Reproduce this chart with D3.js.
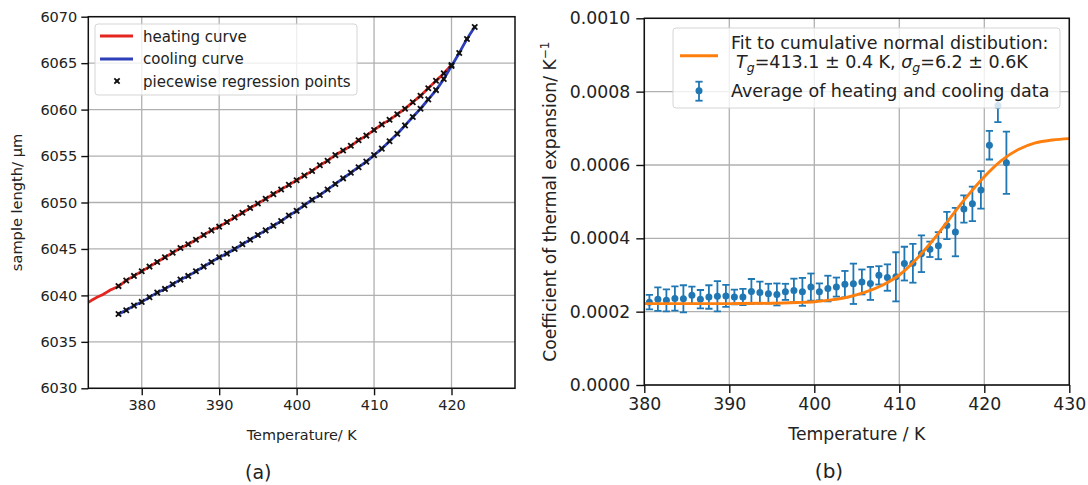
<!DOCTYPE html>
<html>
<head>
<meta charset="utf-8">
<script src="https://cdn.jsdelivr.net/npm/d3@7"></script>
<style>
  html, body { margin: 0; padding: 0; background: #ffffff; }
  svg { display: block; font-family: "DejaVu Sans", sans-serif; }
</style>
</head>
<body>
<svg id="chart" width="1088" height="485"></svg>
<script>
// ---------------- DATA ----------------
// Panel (a): sample length vs temperature
const heatingTemps = [373,374,375,376,377,378,379,380,381,382,383,384,385,386,387,388,389,390,391,392,393,394,395,396,397,398,399,400,401,402,403,404,405,406,407,408,409,410,411,412,413,414,415,416,417,418,419,420];
const heatingLength = [6039.2,6039.7,6040.1,6040.6,6041.0,6041.6,6042.1,6042.6,6043.1,6043.6,6044.1,6044.6,6045.1,6045.5,6046.0,6046.5,6047.0,6047.4,6047.9,6048.4,6048.9,6049.4,6049.9,6050.4,6050.9,6051.4,6051.9,6052.4,6052.9,6053.4,6054.0,6054.5,6055.1,6055.6,6056.1,6056.7,6057.2,6057.8,6058.4,6058.9,6059.5,6060.1,6060.8,6061.5,6062.3,6063.1,6063.9,6064.8];
const heatingPointStart = 377;
const coolingTemps = [377,378,379,380,381,382,383,384,385,386,387,388,389,390,391,392,393,394,395,396,397,398,399,400,401,402,403,404,405,406,407,408,409,410,411,412,413,414,415,416,417,418,419,420,421,422,423];
const coolingLength = [6038.0,6038.4,6038.9,6039.3,6039.8,6040.3,6040.7,6041.2,6041.7,6042.1,6042.6,6043.1,6043.6,6044.1,6044.5,6045.0,6045.5,6046.0,6046.5,6047.0,6047.5,6048.0,6048.6,6049.1,6049.7,6050.3,6050.8,6051.4,6052.0,6052.6,6053.2,6053.8,6054.4,6055.1,6055.8,6056.6,6057.4,6058.3,6059.2,6060.1,6061.1,6062.1,6063.3,6064.7,6066.1,6067.6,6068.9];
const aXTicks = [380, 390, 400, 410, 420];
const aYTicks = [6030, 6035, 6040, 6045, 6050, 6055, 6060, 6065, 6070];

// Panel (b): coefficient of thermal expansion
const cteTemps = [380.6,381.6,382.6,383.6,384.6,385.6,386.6,387.6,388.6,389.6,390.6,391.6,392.6,393.6,394.6,395.6,396.6,397.6,398.6,399.6,400.6,401.6,402.6,403.6,404.6,405.6,406.6,407.6,408.6,409.6,410.6,411.6,412.6,413.6,414.6,415.6,416.6,417.6,418.6,419.6,420.6,421.6,422.6];
const cteValues = [0.000226,0.000234,0.000231,0.000236,0.000235,0.000245,0.000234,0.000240,0.000242,0.000243,0.000240,0.000240,0.000255,0.000252,0.000249,0.000247,0.000254,0.000258,0.000254,0.000267,0.000254,0.000263,0.000267,0.000275,0.000276,0.000281,0.000277,0.000299,0.000293,0.000295,0.000331,0.000332,0.000358,0.000370,0.000380,0.000435,0.000417,0.000480,0.000494,0.000532,0.000654,0.000762,0.000606];
const cteErrors = [0.000020,0.000032,0.000030,0.000033,0.000037,0.000023,0.000025,0.000032,0.000041,0.000030,0.000020,0.000022,0.000034,0.000030,0.000027,0.000030,0.000022,0.000032,0.000038,0.000037,0.000023,0.000035,0.000026,0.000036,0.000055,0.000034,0.000045,0.000025,0.000036,0.000067,0.000046,0.000053,0.000050,0.000021,0.000037,0.000037,0.000066,0.000037,0.000047,0.000051,0.000039,0.000045,0.000085];
const fitTemps = [380,385,390,395,398,400,402,404,406,408,410,412,414,416,418,420,422,424,426,428,430];
const fitValues = [0.000222,0.000222,0.000222,0.000223,0.000225,0.000227,0.000232,0.000240,0.000253,0.000272,0.000300,0.000343,0.000396,0.000456,0.000515,0.000568,0.000612,0.000642,0.000660,0.000668,0.000672];
const bXTicks = [380, 390, 400, 410, 420, 430];
const bYTicks = [0, 0.0002, 0.0004, 0.0006, 0.0008, 0.0010];

// ---------------- STYLE ----------------
const gridColor = "#b0b0b0";
const red = "#e3261f", blue = "#2d3fb8", orange = "#ff7f0e", tab = "#1f77b4";

const svg = d3.select("#chart");
const defs = svg.append("defs");

function panel(opts) {
  const g = svg.append("g");
  const x = d3.scaleLinear().domain(opts.xDomain).range(opts.xRange);
  const y = d3.scaleLinear().domain(opts.yDomain).range(opts.yRange);
  const [x0, x1] = opts.xRange, [y0, y1] = [opts.yRange[1], opts.yRange[0]];
  g.append("g").selectAll("line").data(opts.xTicks).join("line")
    .attr("x1", d => x(d)).attr("x2", d => x(d)).attr("y1", y0).attr("y2", y1)
    .attr("stroke", gridColor).attr("stroke-width", 1.3);
  g.append("g").selectAll("line").data(opts.yTicks).join("line")
    .attr("x1", x0).attr("x2", x1).attr("y1", d => y(d)).attr("y2", d => y(d))
    .attr("stroke", gridColor).attr("stroke-width", 1.3);
  defs.append("clipPath").attr("id", opts.id).append("rect")
    .attr("x", x0).attr("y", y0).attr("width", x1 - x0).attr("height", y1 - y0);
  const plot = g.append("g").attr("clip-path", `url(#${opts.id})`);
  return {g, x, y, plot, x0, x1, y0, y1};
}

function axes(p, opts) {
  const xAxis = d3.axisBottom(p.x).tickValues(opts.xTicks).tickSize(opts.tickLen).tickPadding(opts.xPad).tickFormat(opts.xFmt);
  const yAxis = d3.axisLeft(p.y).tickValues(opts.yTicks).tickSize(opts.tickLen).tickPadding(opts.yPad).tickFormat(opts.yFmt);
  const gx = p.g.append("g").attr("transform", `translate(0,${p.y1})`).call(xAxis);
  const gy = p.g.append("g").attr("transform", `translate(${p.x0},0)`).call(yAxis);
  [gx, gy].forEach(a => {
    a.select(".domain").remove();
    a.selectAll(".tick line").attr("stroke", "#111").attr("stroke-width", 1.4);
    a.selectAll(".tick text").attr("fill", "#222").style("font-size", opts.fontSize + "px")
      .style("font-family", "'DejaVu Sans', sans-serif");
  });
  p.g.append("rect").attr("x", p.x0).attr("y", p.y0).attr("width", p.x1 - p.x0).attr("height", p.y1 - p.y0)
    .attr("fill", "none").attr("stroke", "#111").attr("stroke-width", 1.5);
}

// ================= PANEL (a) =================
const A = panel({id: "clipA", xDomain: [373.1, 428.2], xRange: [88.3, 515], yDomain: [6030, 6070], yRange: [388.3, 16.7], xTicks: aXTicks, yTicks: aYTicks});
const heating = heatingTemps.map((t, i) => ({t, v: heatingLength[i]}));
const cooling = coolingTemps.map((t, i) => ({t, v: coolingLength[i]}));
const lineA = d3.line().x(d => A.x(d.t)).y(d => A.y(d.v)).curve(d3.curveMonotoneX);
A.plot.append("path").datum(heating).attr("d", lineA).attr("fill", "none").attr("stroke", red).attr("stroke-width", 2.8);
A.plot.append("path").datum(cooling).attr("d", lineA).attr("fill", "none").attr("stroke", blue).attr("stroke-width", 2.8);
const xSym = d3.symbol().type(d3.symbolX).size(20);
const sqSym = d3.symbol().type(d3.symbolSquare).size(8);
const regPts = heating.filter(d => d.t >= heatingPointStart).concat(cooling);
const rp = A.plot.append("g");
rp.selectAll("path.x").data(regPts).join("path").attr("class", "x")
  .attr("transform", d => `translate(${A.x(d.t)},${A.y(d.v)})`)
  .attr("d", xSym).attr("fill", "none").attr("stroke", "#111").attr("stroke-width", 1.8);
rp.selectAll("path.s").data(regPts).join("path").attr("class", "s")
  .attr("transform", d => `translate(${A.x(d.t)},${A.y(d.v)})`)
  .attr("d", sqSym).attr("fill", "#111");
axes(A, {xTicks: aXTicks, yTicks: aYTicks, tickLen: 7, xPad: 4, yPad: 4, fontSize: 14.5, xFmt: d3.format("d"), yFmt: d3.format("d")});

// legend (a)
const la = A.g.append("g");
la.append("rect").attr("x", 95).attr("y", 24).attr("width", 262).attr("height", 71).attr("rx", 3)
  .attr("fill", "#fff").attr("fill-opacity", 0.8).attr("stroke", "#d5d5d5").attr("stroke-width", 1);
[[red, 36, "heating curve", 41.7], [blue, 59, "cooling curve", 64]].forEach(([c, yy, txt, bl]) => {
  la.append("line").attr("x1", 100).attr("x2", 133).attr("y1", yy).attr("y2", yy).attr("stroke", c).attr("stroke-width", 2.8);
  la.append("text").attr("x", 143).attr("y", bl).text(txt).style("font-size", "15px").attr("fill", "#222");
});
la.append("path").attr("transform", "translate(117,81)").attr("d", xSym).attr("fill", "none").attr("stroke", "#111").attr("stroke-width", 1.8);
la.append("path").attr("transform", "translate(117,81)").attr("d", sqSym).attr("fill", "#111");
la.append("text").attr("x", 143).attr("y", 86.5).text("piecewise regression points").style("font-size", "15px").attr("fill", "#222");

// labels (a)
svg.append("text").attr("x", 301.7).attr("y", 440).attr("text-anchor", "middle").style("font-size", "14.4px").attr("fill", "#222").text("Temperature/ K");
svg.append("text").attr("transform", "translate(22,202.5) rotate(-90)").attr("text-anchor", "middle").style("font-size", "14.6px").attr("fill", "#222").text("sample length/ µm");
svg.append("text").attr("x", 258.3).attr("y", 479).attr("text-anchor", "middle").style("font-size", "19px").attr("fill", "#222").text("(a)");

// ================= PANEL (b) =================
const B = panel({id: "clipB", xDomain: [380, 430], xRange: [644.3, 1069.3], yDomain: [0, 0.001], yRange: [385, 18.3], xTicks: bXTicks, yTicks: bYTicks});
const cte = cteTemps.map((t, i) => ({t, v: cteValues[i], e: cteErrors[i]}));
const fit = fitTemps.map((t, i) => ({t, v: fitValues[i]}));
const eb = B.plot.append("g").attr("stroke", tab).attr("stroke-width", 1.8);
cte.forEach(d => {
  const cx = B.x(d.t), yt = B.y(d.v + d.e), yb = B.y(d.v - d.e);
  eb.append("line").attr("x1", cx).attr("x2", cx).attr("y1", yt).attr("y2", yb);
  eb.append("line").attr("x1", cx - 3.6).attr("x2", cx + 3.6).attr("y1", yt).attr("y2", yt);
  eb.append("line").attr("x1", cx - 3.6).attr("x2", cx + 3.6).attr("y1", yb).attr("y2", yb);
});
B.plot.append("g").selectAll("circle").data(cte).join("circle")
  .attr("cx", d => B.x(d.t)).attr("cy", d => B.y(d.v)).attr("r", 3.5).attr("fill", tab);
const lineB = d3.line().x(d => B.x(d.t)).y(d => B.y(d.v)).curve(d3.curveMonotoneX);
B.plot.append("path").datum(fit).attr("d", lineB).attr("fill", "none").attr("stroke", orange).attr("stroke-width", 2.9);
axes(B, {xTicks: bXTicks, yTicks: bYTicks, tickLen: 8, xPad: 5, yPad: 6, fontSize: 17.3, xFmt: d3.format("d"), yFmt: d3.format(".4f")});

// legend (b)
const lb = B.g.append("g");
lb.append("rect").attr("x", 673).attr("y", 28).attr("width", 387).attr("height", 80).attr("rx", 3)
  .attr("fill", "#fff").attr("fill-opacity", 0.8).attr("stroke", "#d5d5d5").attr("stroke-width", 1);
lb.append("line").attr("x1", 680).attr("x2", 718).attr("y1", 55.7).attr("y2", 55.7).attr("stroke", orange).attr("stroke-width", 2.9);
lb.append("text").attr("x", 731).attr("y", 49.3).style("font-size", "17.5px").attr("fill", "#222").text("Fit to cumulative normal distibution:");
const t2 = lb.append("text").attr("x", 736).attr("y", 68.3).style("font-size", "17.5px").attr("fill", "#222");
t2.append("tspan").style("font-style", "italic").text("T");
t2.append("tspan").style("font-style", "italic").style("font-size", "12.5px").attr("dy", 4).text("g");
t2.append("tspan").attr("dy", -4).text("=413.1 ± 0.4 K, ");
t2.append("tspan").style("font-style", "italic").text("σ");
t2.append("tspan").style("font-style", "italic").style("font-size", "12.5px").attr("dy", 4).text("g");
t2.append("tspan").attr("dy", -4).text("=6.2 ± 0.6K");
const le = lb.append("g").attr("stroke", tab).attr("stroke-width", 1.8);
le.append("line").attr("x1", 699).attr("x2", 699).attr("y1", 81.7).attr("y2", 100.7);
le.append("line").attr("x1", 695.4).attr("x2", 702.6).attr("y1", 81.7).attr("y2", 81.7);
le.append("line").attr("x1", 695.4).attr("x2", 702.6).attr("y1", 100.7).attr("y2", 100.7);
lb.append("circle").attr("cx", 699).attr("cy", 90.7).attr("r", 3.5).attr("fill", tab);
lb.append("text").attr("x", 731).attr("y", 96.7).style("font-size", "17.5px").attr("fill", "#222").text("Average of heating and cooling data");

// labels (b)
svg.append("text").attr("x", 856.8).attr("y", 440).attr("text-anchor", "middle").style("font-size", "17.2px").attr("fill", "#222").text("Temperature / K");
const yl = svg.append("text").attr("transform", "translate(556,201.7) rotate(-90)").attr("text-anchor", "middle").style("font-size", "17.2px").attr("fill", "#222");
yl.append("tspan").text("Coefficient of thermal expansion/ K");
yl.append("tspan").attr("dy", -7).style("font-size", "12px").text("−1");
svg.append("text").attr("x", 829).attr("y", 478).attr("text-anchor", "middle").style("font-size", "20px").attr("fill", "#222").text("(b)");
</script>
</body>
</html>
